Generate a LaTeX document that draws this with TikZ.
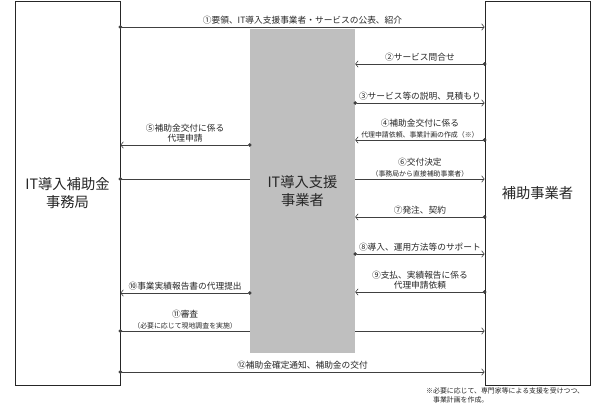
\documentclass[tikz,border=0pt]{standalone}
\usepackage{fontspec}
\setmainfont{Noto Sans CJK JP}
\usetikzlibrary{arrows.meta, positioning, calc}

\newcommand{\hon}{\fontsize{8.7}{10.5}\selectfont}
\newcommand{\chu}{\fontsize{6.9}{9}\selectfont}
\newcommand{\dai}{\fontsize{14.3}{17.5}\selectfont}

\begin{document}
\begin{tikzpicture}[x=1pt, y=-1pt,
					waku/.style={draw=black!85, line width=0.8pt, fill=white, text=black!85,
						minimum width=105pt, minimum height=384pt, inner sep=0pt, align=center, font=\dai},
					haiiro/.style={fill=black!25, text=black!85, minimum width=105pt,
						minimum height=324pt, inner sep=0pt, align=center, font=\dai},
					ya/.style={draw=black!75, line width=0.6pt, shorten <=-1.8pt,
						{Circle[length=3.6pt]}-{Straight Barb[length=2.6pt,width=6.5pt]}},
					lbl/.style={font=\hon, text=black!85, align=center, inner sep=1pt}]
	\useasboundingbox (0,0) rectangle (609,408);

	\node[waku] (jimu)  at (67.5,193) {IT導入補助金\\事務局};
	\node[waku] (jigyo) at (537.5,193) {補助事業者};

	% lines that run behind the grey box
	\draw[ya] (jimu.east |- 0,179) -- (jigyo.west |- 0,179);
	\draw[ya] (jimu.east |- 0,331) -- (jigyo.west |- 0,331);

	\node[haiiro] (shien) at (302.5,191) {IT導入支援\\事業者};

	\node[lbl, above=1pt] (l6) at ($(shien.east |- 0,179)!0.5!(jigyo.west |- 0,179)$)
		{⑥交付決定\\{\chu （事務局から直接補助事業者）}};
	\node[lbl, above=1pt] (l11) at ($(jimu.east |- 0,331)!0.5!(shien.west |- 0,331)$)
		{⑪審査\\{\chu （必要に応じて現地調査を実施）}};

	\draw[ya] (jimu.east |- 0,27) -- node[lbl, above=1pt] (l1)
		{①要領、IT導入支援事業者・サービスの公表、紹介} (jigyo.west |- 0,27);
	\draw[ya] (jimu.east |- 0,372) -- node[lbl, above=1pt] (l12)
		{⑫補助金確定通知、補助金の交付} (jigyo.west |- 0,372);

	\foreach \y/\from/\to/\txt in {
			64/jigyo.west/shien.east/{②サービス問合せ},
			103/shien.east/jigyo.west/{③サービス等の説明、見積もり},
			140/jigyo.west/shien.east/{④補助金交付に係る\\{\chu 代理申請依頼、事業計画の作成（※）}},
			217/jigyo.west/shien.east/{⑦発注、契約},
			254/shien.east/jigyo.west/{⑧導入、運用方法等のサポート},
			292/jigyo.west/shien.east/{⑨支払、実績報告に係る\\代理申請依頼},
			145/shien.west/jimu.east/{⑤補助金交付に係る\\代理申請},
			293/shien.west/jimu.east/{⑩事業実績報告書の代理提出}}
		\draw[ya] (\from |- 0,\y) -- node[lbl, above=1pt] {\txt} (\to |- 0,\y);

	\node[font=\chu, text=black!85, align=left, anchor=north west, inner sep=0pt] (chuki) at (426,387)
		{※必要に応じて、専門家等による支援を受けつつ、\\\hspace{1em}事業計画を作成。};
\end{tikzpicture}
\end{document}
